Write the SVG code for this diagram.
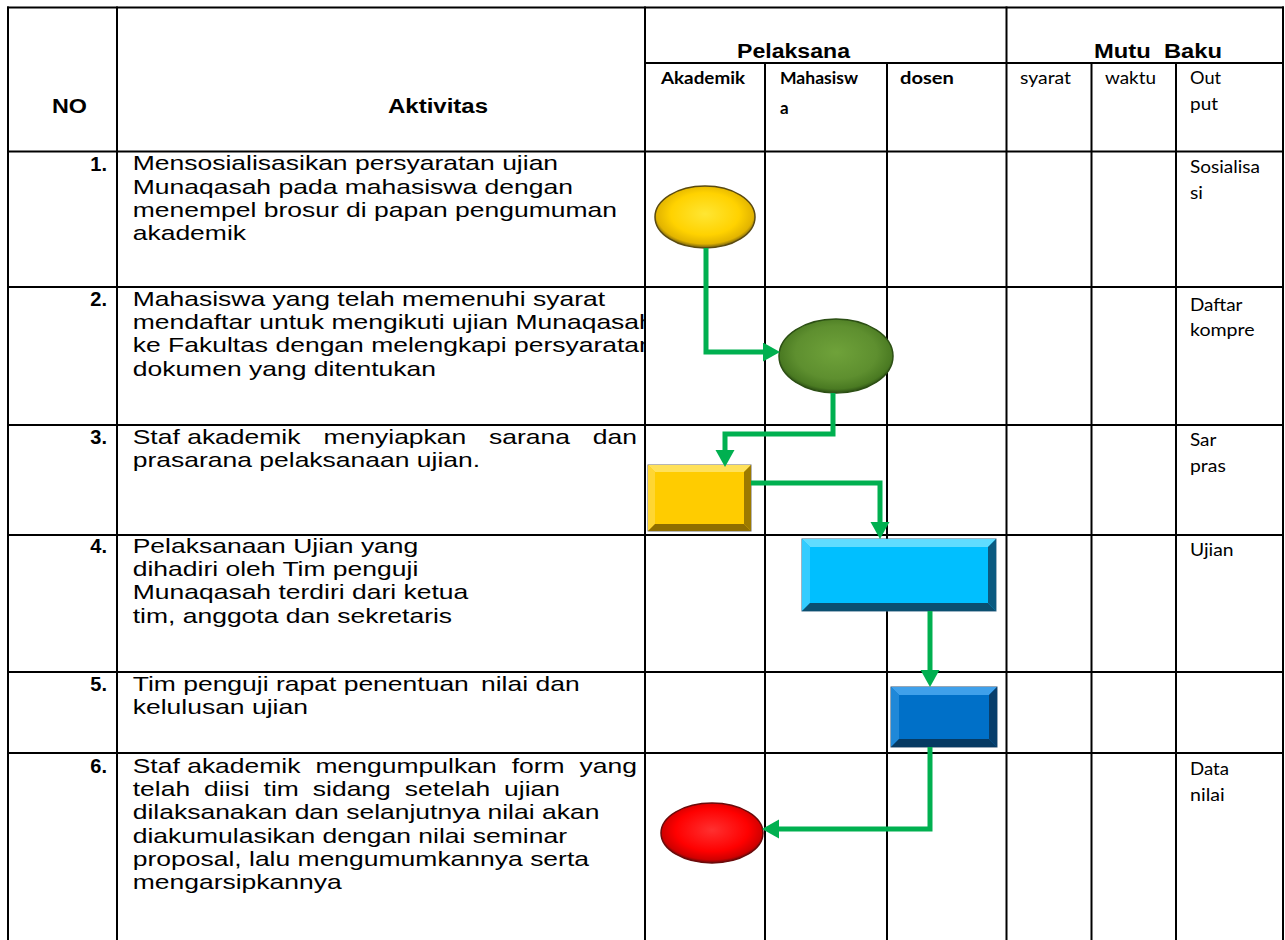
<svg xmlns="http://www.w3.org/2000/svg" width="1285" height="940" viewBox="0 0 1285 940">
<style>
.grid line{stroke:#000;stroke-width:2;}
.b{font-family:"Liberation Sans",Arial,sans-serif;font-size:21px;fill:#000;}
.h{font-family:"Liberation Sans",Arial,sans-serif;font-size:20px;font-weight:bold;fill:#000;}
.cb{font-family:Lato,"Open Sans",sans-serif;font-size:17px;font-weight:bold;fill:#000;}
.c{font-family:Lato,"Open Sans",sans-serif;font-size:17px;fill:#000;}
.conn{fill:none;stroke:#00B050;stroke-width:5;stroke-linejoin:miter;marker-end:url(#arr);}
</style>
<defs>
<marker id="arr" markerUnits="userSpaceOnUse" markerWidth="18" markerHeight="20" refX="7" refY="9.5" orient="auto">
<path d="M0,0 L17,9.5 L0,19 z" fill="#00B050"/>
</marker>
<radialGradient id="gYellow" cx="0.5" cy="0.45" r="0.55">
<stop offset="0" stop-color="#FFE633"/><stop offset="0.62" stop-color="#FFD200"/><stop offset="0.88" stop-color="#E2B400"/><stop offset="1" stop-color="#6B5A10"/>
</radialGradient>
<radialGradient id="gGreen" cx="0.5" cy="0.45" r="0.55">
<stop offset="0" stop-color="#6FA23A"/><stop offset="0.65" stop-color="#5E8F2F"/><stop offset="0.9" stop-color="#4A7A22"/><stop offset="1" stop-color="#2C4F14"/>
</radialGradient>
<radialGradient id="gRed" cx="0.5" cy="0.45" r="0.55">
<stop offset="0" stop-color="#FF3030"/><stop offset="0.65" stop-color="#FF0000"/><stop offset="0.9" stop-color="#D00000"/><stop offset="1" stop-color="#6A0A0A"/>
</radialGradient>
<clipPath id="clipRow2"><rect x="118" y="288" width="527" height="136"/></clipPath>
</defs>
<rect x="0" y="0" width="1285" height="940" fill="#fff"/>

<g id="header">
<text class="h" x="52" y="113" textLength="35" lengthAdjust="spacingAndGlyphs">NO</text>
<text class="h" x="388" y="113" textLength="100" lengthAdjust="spacingAndGlyphs">Aktivitas</text>
<text class="h" x="737" y="58" textLength="113" lengthAdjust="spacingAndGlyphs">Pelaksana</text>
<text class="h" x="1094" y="58" textLength="128" lengthAdjust="spacingAndGlyphs" xml:space="preserve">Mutu  Baku</text>
<text class="cb" x="661" y="84" textLength="84" lengthAdjust="spacingAndGlyphs">Akademik</text>
<text class="cb" x="780" y="84" textLength="78" lengthAdjust="spacingAndGlyphs">Mahasisw</text>
<text class="cb" x="780" y="114">a</text>
<text class="cb" x="900" y="84" textLength="54" lengthAdjust="spacingAndGlyphs">dosen</text>
<text class="c" x="1020" y="84" textLength="51" lengthAdjust="spacingAndGlyphs">syarat</text>
<text class="c" x="1105" y="84" textLength="51" lengthAdjust="spacingAndGlyphs">waktu</text>
<text class="c" x="1190" y="84" textLength="31" lengthAdjust="spacingAndGlyphs">Out</text>
<text class="c" x="1190" y="110" textLength="28" lengthAdjust="spacingAndGlyphs">put</text>
</g>

<g id="row-1">
<text class="h" x="107" y="170.5" text-anchor="end">1.</text>
<text class="b" transform="translate(132.7 0) scale(1.262 1)">
<tspan x="0" y="170.5">Mensosialisasikan persyaratan ujian</tspan>
<tspan x="0" y="193.7">Munaqasah pada mahasiswa dengan</tspan>
<tspan x="0" y="216.9">menempel brosur di papan pengumuman</tspan>
<tspan x="0" y="240.1">akademik</tspan>
</text>
<text class="c" x="1190" y="173" textLength="70" lengthAdjust="spacingAndGlyphs">Sosialisa</text>
<text class="c" x="1190" y="199" textLength="13" lengthAdjust="spacingAndGlyphs">si</text>
</g>

<g id="row-2">
<text class="h" x="107" y="306" text-anchor="end">2.</text>
<g clip-path="url(#clipRow2)">
<text class="b" transform="translate(132.7 0) scale(1.262 1)">
<tspan x="0" y="306">Mahasiswa yang telah memenuhi syarat</tspan>
<tspan x="0" y="329.2">mendaftar untuk mengikuti ujian Munaqasah</tspan>
<tspan x="0" y="352.4">ke Fakultas dengan melengkapi persyaratan</tspan>
<tspan x="0" y="375.6">dokumen yang ditentukan</tspan>
</text>
</g>
<text class="c" x="1190" y="311" textLength="52.5" lengthAdjust="spacingAndGlyphs">Daftar</text>
<text class="c" x="1190" y="336" textLength="64.6" lengthAdjust="spacingAndGlyphs">kompre</text>
</g>

<g id="row-3">
<text class="h" x="107" y="444" text-anchor="end">3.</text>
<text class="b" transform="translate(132.7 0) scale(1.262 1)">
<tspan x="0" y="444">Staf</tspan><tspan x="43.15" y="444">akademik</tspan><tspan x="151.2" y="444">menyiapkan</tspan><tspan x="282.4" y="444">sarana</tspan><tspan x="364.6" y="444">dan</tspan>
<tspan x="0" y="467.2">prasarana pelaksanaan ujian.</tspan>
</text>
<text class="c" x="1190" y="446" textLength="26.4" lengthAdjust="spacingAndGlyphs">Sar</text>
<text class="c" x="1190" y="472" textLength="35.8" lengthAdjust="spacingAndGlyphs">pras</text>
</g>

<g id="row-4">
<text class="h" x="107" y="553" text-anchor="end">4.</text>
<text class="b" transform="translate(132.7 0) scale(1.262 1)">
<tspan x="0" y="553">Pelaksanaan Ujian yang</tspan>
<tspan x="0" y="576.2">dihadiri oleh Tim penguji</tspan>
<tspan x="0" y="599.4">Munaqasah terdiri dari ketua</tspan>
<tspan x="0" y="622.6">tim, anggota dan sekretaris</tspan>
</text>
<text class="c" x="1190" y="556" textLength="43.6" lengthAdjust="spacingAndGlyphs">Ujian</text>
</g>

<g id="row-5">
<text class="h" x="107" y="691" text-anchor="end">5.</text>
<text class="b" transform="translate(132.7 0) scale(1.262 1)">
<tspan x="0" y="691">Tim penguji rapat penentuan</tspan><tspan x="276" y="691">nilai dan</tspan>
<tspan x="0" y="714.2">kelulusan ujian</tspan>
</text>
</g>

<g id="row-6">
<text class="h" x="107" y="773" text-anchor="end">6.</text>
<text class="b" transform="translate(132.7 0) scale(1.262 1)">
<tspan x="0" y="773">Staf</tspan><tspan x="43.15" y="773">akademik</tspan><tspan x="144.9" y="773">mengumpulkan</tspan><tspan x="300.3" y="773">form</tspan><tspan x="354" y="773">yang</tspan>
<tspan x="0" y="796.2">telah</tspan><tspan x="56.6" y="796.2">diisi</tspan><tspan x="103.7" y="796.2">tim</tspan><tspan x="142.7" y="796.2">sidang</tspan><tspan x="215.6" y="796.2">setelah</tspan><tspan x="294.3" y="796.2">ujian</tspan>
<tspan x="0" y="819.4">dilaksanakan dan selanjutnya nilai akan</tspan>
<tspan x="0" y="842.6">diakumulasikan dengan nilai seminar</tspan>
<tspan x="0" y="865.8">proposal, lalu mengumumkannya serta</tspan>
<tspan x="0" y="889">mengarsipkannya</tspan>
</text>
<text class="c" x="1190" y="775" textLength="39" lengthAdjust="spacingAndGlyphs">Data</text>
<text class="c" x="1190" y="801" textLength="34.7" lengthAdjust="spacingAndGlyphs">nilai</text>
</g>

<g id="grid" class="grid">
<line x1="7" y1="7.5" x2="1284" y2="7.5"/>
<line x1="645" y1="63" x2="1284" y2="63"/>
<line x1="7" y1="151.5" x2="1284" y2="151.5"/>
<line x1="7" y1="287" x2="1284" y2="287"/>
<line x1="7" y1="425" x2="1284" y2="425"/>
<line x1="7" y1="535" x2="1284" y2="535"/>
<line x1="7" y1="672" x2="1284" y2="672"/>
<line x1="7" y1="753" x2="1284" y2="753"/>
<line x1="8" y1="6.5" x2="8" y2="940"/>
<line x1="117" y1="6.5" x2="117" y2="940"/>
<line x1="645" y1="6.5" x2="645" y2="940"/>
<line x1="765" y1="63" x2="765" y2="940"/>
<line x1="887" y1="63" x2="887" y2="940"/>
<line x1="1006.5" y1="6.5" x2="1006.5" y2="940"/>
<line x1="1091.5" y1="63" x2="1091.5" y2="940"/>
<line x1="1176" y1="63" x2="1176" y2="940"/>
<line x1="1283" y1="6.5" x2="1283" y2="940"/>
</g>

<g id="node-1">
<ellipse cx="705" cy="217" rx="50" ry="31" fill="url(#gYellow)" stroke="#5A4A10" stroke-width="1.5"/>
</g>
<g id="node-2">
<ellipse cx="836" cy="356" rx="57" ry="37" fill="url(#gGreen)" stroke="#2C4F14" stroke-width="1.5"/>
</g>
<g id="node-3">
<rect x="648" y="465" width="103" height="66" fill="#FFCC00" stroke="#6E6E6E" stroke-width="1"/>
<polygon points="648,465 751,465 744,472 655,472" fill="#FFE15A"/>
<polygon points="648,465 655,472 655,524 648,531" fill="#FFD633"/>
<polygon points="751,465 751,531 744,524 744,472" fill="#9C7A00"/>
<polygon points="648,531 751,531 744,524 655,524" fill="#8F6E00"/>
</g>
<g id="node-4">
<rect x="802" y="539" width="194" height="72" fill="#00BFFF" stroke="#3A6A8A" stroke-width="1"/>
<polygon points="802,539 996,539 988,547 810,547" fill="#5FDCFF"/>
<polygon points="802,539 810,547 810,603 802,611" fill="#33CCFF"/>
<polygon points="996,539 996,611 988,603 988,547" fill="#0A5A80"/>
<polygon points="802,611 996,611 988,603 810,603" fill="#0B4F70"/>
</g>
<g id="node-5">
<rect x="891" y="687" width="106" height="60" fill="#0070C8" stroke="#2F4F6F" stroke-width="1"/>
<polygon points="891,687 997,687 989,695 899,695" fill="#3FA0EA"/>
<polygon points="891,687 899,695 899,739 891,747" fill="#1F88D8"/>
<polygon points="997,687 997,747 989,739 989,695" fill="#083E6B"/>
<polygon points="891,747 997,747 989,739 899,739" fill="#063A63"/>
</g>
<g id="node-6">
<ellipse cx="712" cy="833" rx="51" ry="30" fill="url(#gRed)" stroke="#6A0A0A" stroke-width="1.5"/>
</g>

<g id="connectors">
<path class="conn" d="M706,248 V352 H770"/>
<path class="conn" d="M833,393 V434 H725 V457"/>
<path class="conn" d="M751,483 H880 V529"/>
<path class="conn" d="M930,611 V677"/>
<path class="conn" d="M930,747 V829 H772"/>
</g>
</svg>
